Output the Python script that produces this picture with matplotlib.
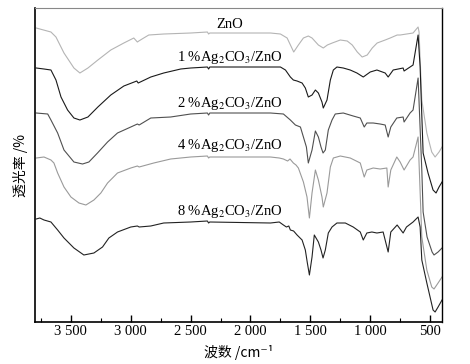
import matplotlib
matplotlib.use("Agg")
import matplotlib.pyplot as plt

plt.rcParams['font.family'] = ['Liberation Serif', 'DejaVu Sans']
plt.rcParams['mathtext.fontset'] = 'stix'
cjk = ['Noto Sans CJK SC', 'DejaVu Sans']

# 波数 (cm-1) / 透光率 (任意单位, 已偏移)
w_zno = [3790, 3667, 3625, 3558, 3475, 3425, 3358, 3275, 3167, 3058, 2975, 2945, 2933, 2892, 2850,
         2725, 2500, 2360, 2350, 2340, 2100, 1833, 1750, 1694, 1639, 1600, 1558, 1517, 1486, 1433,
         1392, 1358, 1317, 1250, 1192, 1150, 1108, 1067, 1025, 983, 942, 875, 833, 775, 750, 642,
         600, 592, 569, 527, 486, 458, 425, 400]
t_zno = [294, 290, 285, 269, 254, 249, 254, 262, 272, 279, 284, 280, 281, 284, 287,
         288, 289, 290, 288, 289, 289, 289, 288, 284, 270, 277, 284, 286, 284, 277,
         274, 277, 279, 282, 281, 277, 270, 265, 267, 274, 279, 282, 284, 287, 287, 289,
         295, 290, 222, 189, 170, 165, 170, 175]

w_1 = [3790, 3725, 3667, 3625, 3583, 3528, 3475, 3425, 3358, 3275, 3167, 3058, 2950, 2938, 2833,
       2725, 2583, 2500, 2360, 2350, 2340, 1833, 1750, 1708, 1667, 1642, 1611, 1569, 1542, 1517,
       1486, 1458, 1433, 1403, 1392, 1361, 1333, 1308, 1278, 1225, 1167, 1111, 1058, 1000, 944,
       875, 850, 808, 725, 717, 642, 600, 583, 558, 517, 475, 450, 425, 400]
t_1 = [254, 253, 252, 242, 225, 212, 204, 202, 205, 215, 227, 236, 241, 239, 245,
       249, 253, 254, 255, 253, 255, 255, 255, 252, 245, 242, 241, 239, 234, 225,
       227, 232, 229, 220, 214, 222, 242, 252, 255, 254, 252, 249, 245, 250, 252,
       249, 245, 252, 254, 251, 257, 287, 255, 169, 149, 132, 129, 135, 140]

w_2 = [3790, 3694, 3667, 3611, 3558, 3475, 3403, 3350, 3278, 3194, 3111, 3000, 2945, 2930, 2833,
       2667, 2500, 2360, 2350, 2340, 1833, 1725, 1667, 1625, 1583, 1558, 1533, 1517, 1486, 1458,
       1433, 1411, 1394, 1375, 1350, 1319, 1292, 1225, 1142, 1083, 1050, 1028, 975, 917, 875,
       850, 828, 778, 725, 717, 667, 642, 600, 569, 558, 525, 483, 467, 433, 400]
t_2 = [209, 208, 202, 189, 172, 160, 158, 160, 169, 180, 189, 195, 198, 197, 204,
       205, 208, 209, 207, 209, 209, 208, 202, 197, 195, 185, 175, 159, 172, 191,
       185, 175, 169, 172, 192, 202, 208, 209, 206, 204, 195, 199, 199, 198, 197,
       185, 195, 204, 205, 200, 209, 212, 244, 152, 110, 85, 70, 67, 70, 74]

w_4 = [3790, 3725, 3667, 3642, 3611, 3558, 3500, 3433, 3375, 3308, 3250, 3194, 3111, 3000, 2945,
       2930, 2808, 2667, 2500, 2360, 2350, 2340, 1833, 1760, 1725, 1690, 1670, 1642, 1620, 1600,
       1558, 1528, 1508, 1486, 1458, 1433, 1403, 1392, 1361, 1333, 1308, 1250, 1167, 1083, 1050,
       1028, 975, 917, 861, 850, 828, 778, 750, 717, 667, 642, 600, 569, 527, 486, 467, 433, 400]
t_4 = [164, 165, 162, 159, 149, 135, 125, 119, 117, 122, 129, 139, 149, 154, 156,
       155, 159, 163, 165, 166, 164, 165, 165, 164, 163, 161, 163, 159, 157, 154,
       140, 125, 104, 129, 152, 142, 125, 115, 129, 155, 164, 166, 164, 159, 145,
       152, 154, 153, 154, 135, 152, 165, 160, 152, 162, 165, 185, 85, 52, 35, 33, 39, 45]

w_8 = [3790, 3760, 3725, 3667, 3611, 3558, 3475, 3392, 3308, 3236, 3183, 3111, 3000, 2945, 2930,
       2833, 2725, 2500, 2360, 2350, 2340, 1833, 1760, 1725, 1700, 1680, 1667, 1640, 1611, 1569,
       1542, 1525, 1508, 1486, 1467, 1433, 1411, 1394, 1375, 1350, 1319, 1278, 1208, 1142, 1083,
       1058, 1028, 986, 944, 892, 850, 828, 775, 725, 697, 642, 600, 583, 569, 527, 500, 475,
       458, 433, 400]
t_8 = [103, 104, 102, 100, 92, 84, 74, 67, 69, 75, 84, 90, 95, 96, 95,
       96, 99, 100, 101, 99, 100, 99, 100, 97, 95, 96, 92, 91, 87, 82,
       72, 59, 47, 65, 87, 80, 72, 64, 72, 89, 95, 99, 99, 95, 90,
       82, 89, 90, 89, 90, 70, 90, 97, 89, 95, 100, 105, 95, 62, 39, 25, 12,
       10, 15, 22]

labels = ['ZnO', '1 %Ag$_2$CO$_3$/ZnO', '2 %Ag$_2$CO$_3$/ZnO',
          '4 %Ag$_2$CO$_3$/ZnO', '8 %Ag$_2$CO$_3$/ZnO']
label_t = [298, 265, 219, 177, 110]
colors = ['#b4b4b4', '#1a1a1a', '#505050', '#9a9a9a', '#222222']

xticks = [3500, 3000, 2500, 2000, 1500, 1000, 500]
xticklabels = ['3 500', '3 000', '2 500', '2 000', '1 500', '1 000', '500']

fig = plt.figure(figsize=(4.7, 3.64), dpi=100)
ax = fig.add_axes([0.0745, 0.1154, 0.866, 0.8626])

series = [(w_zno, t_zno), (w_1, t_1), (w_2, t_2), (w_4, t_4), (w_8, t_8)]
for (w, t), c in zip(series, colors):
    ax.plot(w, t, color=c, lw=0.8)

for lab, y in zip(labels, label_t):
    ax.text(2170, y, lab, ha='center', va='center', fontsize=10.5)

ax.set_xlim(3800, 400)
ax.set_ylim(0, 314)
ax.set_xticks(xticks)
ax.set_xticklabels(xticklabels, fontsize=10.5)
ax.set_xticks([3750, 3250, 2750, 2250, 1750, 1250, 750], minor=True)
ax.tick_params(axis='x', which='major', direction='in', length=5, width=1, pad=2)
ax.tick_params(axis='x', which='minor', direction='in', length=3, width=0.8)
ax.set_yticks([])
for s in ['left', 'bottom']:
    ax.spines[s].set_linewidth(1.2)
ax.spines['top'].set_color('#888888')
ax.spines['top'].set_linewidth(0.8)
ax.spines['right'].set_linewidth(1.0)

ax.set_xlabel('波数 /cm⁻¹', fontsize=10, labelpad=5, family=cjk)
ax.set_ylabel('透光率 /%', fontsize=10, labelpad=5, family=cjk)

fig.savefig('out.png', dpi=100)
